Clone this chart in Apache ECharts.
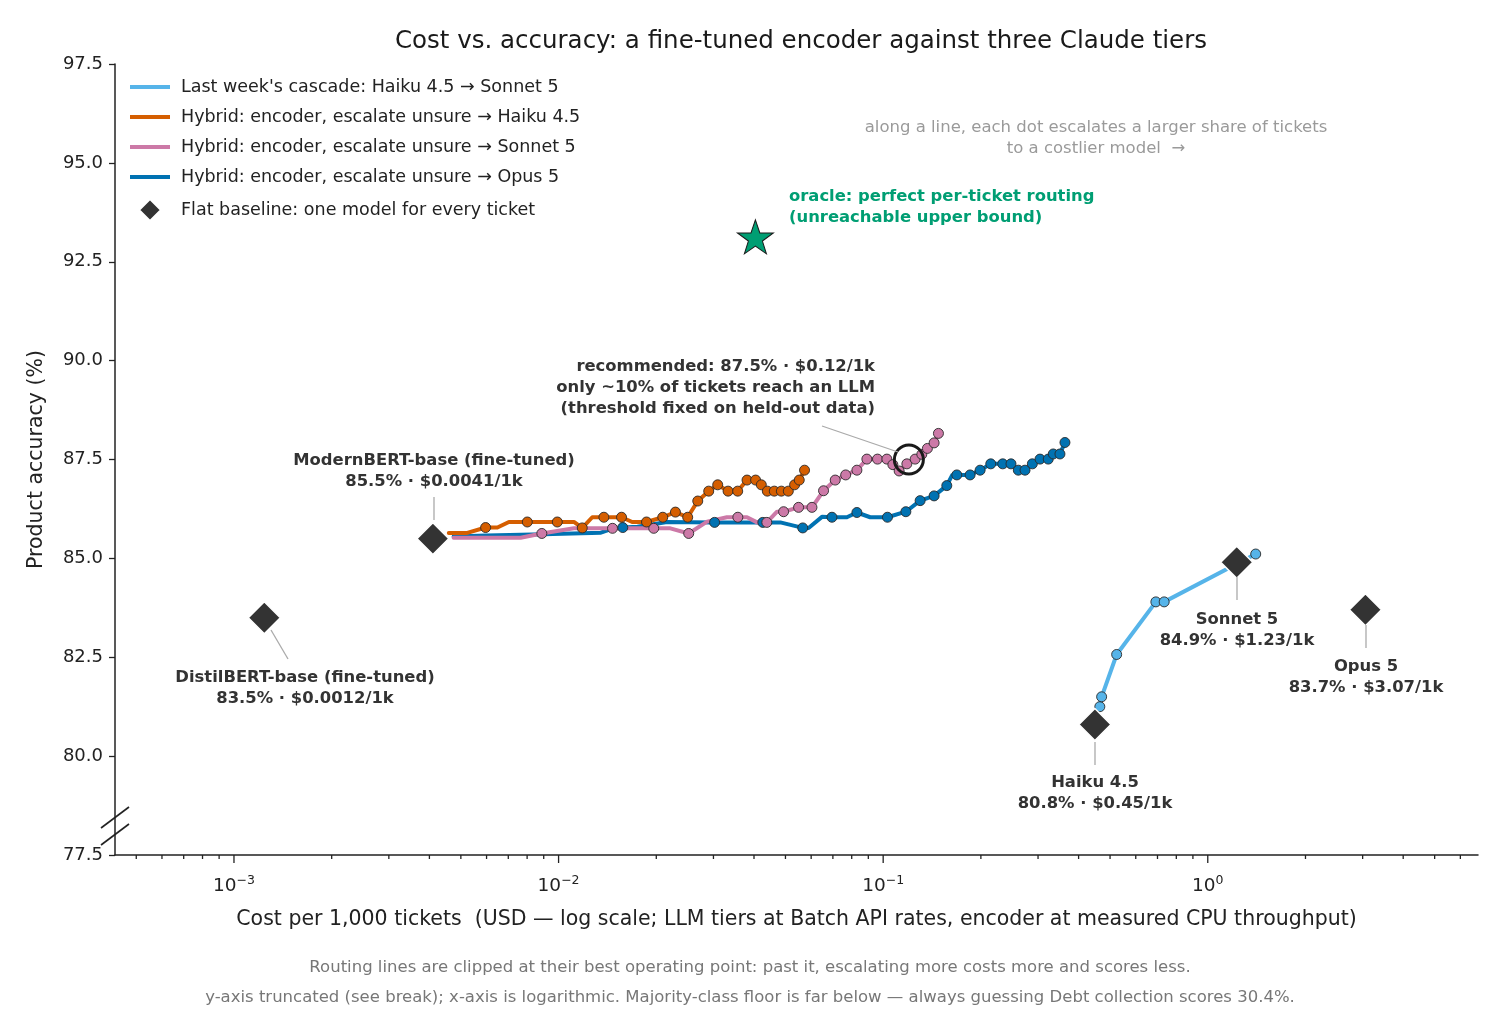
<!DOCTYPE html>
<html>
<head>
<meta charset="utf-8">
<script src="https://cdn.jsdelivr.net/npm/echarts@6/dist/echarts.min.js"></script>
<style>
  html, body { margin: 0; padding: 0; background: #fff; }
  #chart { width: 1500px; height: 1020px; }
</style>
</head>
<body>
<div id="chart"></div>
<script>
const FONT = '"DejaVu Sans", "Open Sans", sans-serif';

// cost per 1k tickets (USD), accuracy (%)
const cascadePts = [[0.465, 81.25], [0.471, 81.5], [0.524, 82.57], [0.692, 83.9], [0.734, 83.9], [1.405, 85.11]];

const haikuHybridLine = [
  [0.00459, 85.64], [0.0052, 85.64], [0.00596, 85.78], [0.00648, 85.78], [0.00703, 85.92],
  [0.00801, 85.92], [0.00991, 85.92], [0.01115, 85.92], [0.01183, 85.77], [0.0127, 86.04],
  [0.01379, 86.04], [0.01563, 86.04], [0.01686, 85.92], [0.01866, 85.92], [0.02094, 86.04],
  [0.02291, 86.17], [0.02499, 86.04], [0.02684, 86.45], [0.02901, 86.7], [0.03092, 86.86],
  [0.03328, 86.7], [0.03563, 86.7], [0.03807, 86.98], [0.04046, 86.98], [0.04213, 86.86],
  [0.04397, 86.7], [0.04619, 86.7], [0.04856, 86.7], [0.05102, 86.7], [0.05335, 86.86],
  [0.05514, 86.98], [0.05725, 87.23]
];
const haikuHybridDots = [
  [0.00596, 85.78], [0.00801, 85.92], [0.00991, 85.92], [0.01183, 85.77], [0.01379, 86.04],
  [0.01563, 86.04], [0.01866, 85.92], [0.02094, 86.04], [0.02291, 86.17], [0.02499, 86.04],
  [0.02684, 86.45], [0.02901, 86.7], [0.03092, 86.86], [0.03328, 86.7], [0.03563, 86.7],
  [0.03807, 86.98], [0.04046, 86.98], [0.04213, 86.86], [0.04397, 86.7], [0.04619, 86.7],
  [0.04856, 86.7], [0.05102, 86.7], [0.05335, 86.86], [0.05514, 86.98], [0.05725, 87.23]
];

const sonnetHybridLine = [
  [0.00475, 85.52], [0.00764, 85.52], [0.00888, 85.63], [0.01115, 85.76], [0.01466, 85.76],
  [0.01964, 85.76], [0.0221, 85.76], [0.02517, 85.63], [0.02868, 85.93], [0.033, 86.04],
  [0.03567, 86.04], [0.03807, 86.04], [0.04087, 85.91], [0.04381, 85.91], [0.0471, 86.18],
  [0.04934, 86.18], [0.05488, 86.29], [0.06034, 86.29], [0.06551, 86.71], [0.07117, 86.98],
  [0.07665, 87.11], [0.083, 87.23], [0.08908, 87.51], [0.09605, 87.51], [0.10266, 87.51],
  [0.10711, 87.37], [0.112, 87.21], [0.11831, 87.39], [0.12546, 87.51], [0.13153, 87.63],
  [0.13686, 87.78], [0.14353, 87.92], [0.148, 88.16]
];
const sonnetHybridDots = [
  [0.00888, 85.63], [0.01466, 85.76], [0.01964, 85.76], [0.02517, 85.63], [0.03567, 86.04],
  [0.04381, 85.91], [0.04934, 86.18], [0.05488, 86.29], [0.06034, 86.29], [0.06551, 86.71],
  [0.07117, 86.98], [0.07665, 87.11], [0.083, 87.23], [0.08908, 87.51], [0.09605, 87.51],
  [0.10266, 87.51], [0.10711, 87.37], [0.112, 87.21], [0.11831, 87.39], [0.12546, 87.51],
  [0.13153, 87.63], [0.13686, 87.78], [0.14353, 87.92], [0.148, 88.16]
];

const opusHybridLine = [
  [0.00475, 85.55], [0.006, 85.58], [0.009, 85.61], [0.0135, 85.65], [0.01475, 85.76],
  [0.01577, 85.78], [0.0175, 85.8], [0.0216, 85.92], [0.03024, 85.91], [0.04259, 85.91],
  [0.04822, 85.91], [0.05652, 85.77], [0.05891, 85.77], [0.06478, 86.05], [0.06954, 86.04],
  [0.07731, 86.04], [0.083, 86.16], [0.0912, 86.04], [0.10309, 86.04], [0.11747, 86.18],
  [0.12997, 86.46], [0.14353, 86.58], [0.15704, 86.84], [0.1630, 87.1], [0.16862, 87.11],
  [0.18525, 87.11], [0.1989, 87.23], [0.2145, 87.39], [0.23352, 87.39], [0.24763, 87.39],
  [0.26082, 87.23], [0.27354, 87.23], [0.28812, 87.39], [0.3042, 87.51], [0.32256, 87.51],
  [0.3342, 87.64], [0.35044, 87.64], [0.36308, 87.93]
];
const opusHybridDots = [
  [0.01577, 85.78], [0.03024, 85.91], [0.04259, 85.91], [0.05652, 85.77], [0.06954, 86.04],
  [0.083, 86.16], [0.10309, 86.04], [0.11747, 86.18], [0.12997, 86.46], [0.14353, 86.58],
  [0.15704, 86.84], [0.16862, 87.11], [0.18525, 87.11], [0.1989, 87.23], [0.2145, 87.39],
  [0.23352, 87.39], [0.24763, 87.39], [0.26082, 87.23], [0.27354, 87.23], [0.28812, 87.39],
  [0.3042, 87.51], [0.32256, 87.51], [0.3342, 87.64], [0.35044, 87.64], [0.36308, 87.93]
];

// flat baselines: DistilBERT, ModernBERT, Haiku 4.5, Sonnet 5, Opus 5
const baselinePts = [[0.00124, 83.5], [0.0041, 85.5], [0.449, 80.8], [1.228, 84.9], [3.06, 83.7]];
const oraclePt = [[0.0404, 93.13]];
const recommendedPt = [[0.12, 87.5]];

const yTicks = { min: 77.5, max: 97.5, step: 2.5 };
const xRange = { min: 0.00043, max: 6.8 };
const majorTicks = [0.001, 0.01, 0.1, 1];
const minorMult = [2, 3, 4, 5, 6, 7, 8, 9];
const minorDecades = [0.0001, 0.001, 0.01, 0.1, 1];

const C = {
  cascade: '#56B4E9', haiku: '#D55E00', sonnet: '#CC79A7', opus: '#0072B2',
  oracle: '#009E73', base: '#333333', ink: '#222222', lead: '#aaaaaa'
};

const names = {
  cascade: "Last week's cascade: Haiku 4.5 → Sonnet 5",
  haiku: 'Hybrid: encoder, escalate unsure → Haiku 4.5',
  sonnet: 'Hybrid: encoder, escalate unsure → Sonnet 5',
  opus: 'Hybrid: encoder, escalate unsure → Opus 5',
  base: 'Flat baseline: one model for every ticket'
};

const LINE_ICON = 'path://M0,0 L40,0 L40,4 L0,4 Z';
const DIAMOND_ICON = 'path://M11,0 L22,11 L11,22 L0,11 Z';

const tickData = [];
majorTicks.forEach(v => tickData.push([v, yTicks.min, 8]));
minorDecades.forEach(d => minorMult.forEach(m => {
  const v = d * m;
  if (v > xRange.min && v < xRange.max) tickData.push([v, yTicks.min, 4]);
}));

function lineSeries(name, data, color) {
  return {
    name, type: 'line', data, symbol: 'none', z: 3,
    lineStyle: { color, width: 4, join: 'round', cap: 'round' },
    itemStyle: { color }
  };
}
function dotSeries(data, color) {
  return {
    type: 'scatter', data, symbolSize: 10, z: 4,
    itemStyle: { color, opacity: 1, borderColor: '#2a2a2a', borderWidth: 0.9 }
  };
}

function fmtPow(v) {
  const e = Math.log10(v);
  if (Math.abs(e - Math.round(e)) > 1e-6) return '';
  const s = String(Math.round(e)).replace('-', '−');
  return '{b|10}{s|' + s + '}';
}

const chart = echarts.init(document.getElementById('chart'));

function txt(x, y, text, opt) {
  return {
    type: 'text', x, y, silent: true, z: 50,
    style: Object.assign({
      text, fontFamily: FONT, fontSize: 16.4, fontWeight: 'bold', fill: C.base,
      textAlign: 'center', verticalAlign: 'middle', lineHeight: 21
    }, opt || {})
  };
}
function lead(x1, y1, x2, y2) {
  return { type: 'line', silent: true, z: 50, shape: { x1, y1, x2, y2 }, style: { stroke: C.lead, lineWidth: 1.3 } };
}

const option = {
  backgroundColor: '#fff',
  animation: false,
  textStyle: { fontFamily: FONT },
  title: {
    text: 'Cost vs. accuracy: a fine-tuned encoder against three Claude tiers',
    left: 796, top: 24, textAlign: 'center',
    textStyle: { fontFamily: FONT, fontSize: 24.5, fontWeight: 'normal', color: '#1a1a1a' }
  },
  grid: { left: 115, right: 22, top: 64, bottom: 165 },
  legend: {
    orient: 'vertical', left: 130, top: 78, padding: 0, itemGap: 12,
    itemWidth: 40, itemHeight: 22, selectedMode: false, symbolKeepAspect: true,
    textStyle: { fontFamily: FONT, fontSize: 17.5, color: C.ink, padding: [0, 0, 0, 6] },
    data: [
      { name: names.cascade, icon: LINE_ICON }, { name: names.haiku, icon: LINE_ICON },
      { name: names.sonnet, icon: LINE_ICON }, { name: names.opus, icon: LINE_ICON },
      { name: names.base, icon: DIAMOND_ICON }
    ]
  },
  xAxis: {
    type: 'log', logBase: 10, min: xRange.min, max: xRange.max,
    name: 'Cost per 1,000 tickets  (USD — log scale; LLM tiers at Batch API rates, encoder at measured CPU throughput)',
    nameLocation: 'middle', nameGap: 54,
    nameTextStyle: { fontFamily: FONT, fontSize: 20.5, color: C.ink },
    axisLine: { lineStyle: { color: C.ink, width: 1.5 } },
    axisTick: { show: false },
    splitLine: { show: false },
    axisLabel: {
      margin: 19, formatter: fmtPow, color: C.ink,
      rich: {
        b: { fontFamily: FONT, fontSize: 18.5, color: C.ink },
        s: { fontFamily: FONT, fontSize: 12.5, color: C.ink, padding: [0, 0, 12, 0] }
      }
    }
  },
  yAxis: {
    type: 'value', min: yTicks.min, max: yTicks.max, interval: yTicks.step,
    name: 'Product accuracy (%)', nameLocation: 'middle', nameGap: 68,
    nameTextStyle: { fontFamily: FONT, fontSize: 20.5, color: C.ink },
    axisLine: { show: true, lineStyle: { color: C.ink, width: 1.5 } },
    axisTick: { show: true, length: 6, lineStyle: { color: C.ink, width: 1.3 } },
    splitLine: { show: false },
    axisLabel: { fontFamily: FONT, fontSize: 18, color: C.ink, margin: 12, formatter: v => v.toFixed(1) }
  },
  series: [
    {
      type: 'custom', data: tickData, silent: true, clip: false, z: 6,
      encode: { x: 0, y: 1 },
      renderItem: (params, api) => {
        const p = api.coord([api.value(0), api.value(1)]);
        return {
          type: 'line',
          shape: { x1: p[0], y1: p[1], x2: p[0], y2: p[1] + api.value(2) },
          style: { stroke: C.ink, lineWidth: 1.3 }
        };
      }
    },
    lineSeries(names.cascade, cascadePts, C.cascade),
    dotSeries(cascadePts, C.cascade),
    lineSeries(names.opus, opusHybridLine, C.opus),
    dotSeries(opusHybridDots, C.opus),
    lineSeries(names.sonnet, sonnetHybridLine, C.sonnet),
    dotSeries(sonnetHybridDots, C.sonnet),
    lineSeries(names.haiku, haikuHybridLine, C.haiku),
    dotSeries(haikuHybridDots, C.haiku),
    {
      name: names.base, type: 'scatter', data: baselinePts, symbol: 'diamond',
      symbolSize: 32, z: 8,
      itemStyle: { color: C.base, opacity: 1, borderColor: '#ffffff', borderWidth: 1.5 }
    },
    {
      type: 'scatter', data: oraclePt, z: 8, symbolSize: [36, 34],
      symbol: 'path://M50,0 L61.8,35.1 L98.1,35.1 L68.7,56.7 L79.4,91 L50,70 L20.6,91 L31.3,56.7 L1.9,35.1 L38.2,35.1 Z',
      itemStyle: { color: C.oracle, opacity: 1, borderColor: '#1a1a1a', borderWidth: 1 }
    },
    {
      type: 'scatter', data: recommendedPt, z: 9, symbol: 'circle', symbolSize: 29,
      itemStyle: { color: 'rgba(0,0,0,0)', opacity: 1, borderColor: '#1a1a1a', borderWidth: 3 }
    }
  ],
  graphic: [
    // y-axis break marks
    { type: 'line', silent: true, z: 60, shape: { x1: 101, y1: 828, x2: 129, y2: 807 }, style: { stroke: C.ink, lineWidth: 1.6 } },
    { type: 'line', silent: true, z: 60, shape: { x1: 101, y1: 845, x2: 129, y2: 824 }, style: { stroke: C.ink, lineWidth: 1.6 } },

    txt(875, 388, 'recommended: 87.5% · $0.12/1k\nonly ~10% of tickets reach an LLM\n(threshold fixed on held-out data)', { textAlign: 'right' }),
    lead(822, 426, 898, 452),
    txt(434, 471, 'ModernBERT-base (fine-tuned)\n85.5% · $0.0041/1k'),
    lead(434, 497, 434, 520),
    txt(305, 688, 'DistilBERT-base (fine-tuned)\n83.5% · $0.0012/1k'),
    lead(271, 630, 288, 659),
    txt(1095, 793, 'Haiku 4.5\n80.8% · $0.45/1k'),
    lead(1095, 742, 1095, 765),
    txt(1237, 630, 'Sonnet 5\n84.9% · $1.23/1k'),
    lead(1237, 577, 1237, 600),
    txt(1366, 677, 'Opus 5\n83.7% · $3.07/1k'),
    lead(1366, 625, 1366, 648),
    txt(789, 207, 'oracle: perfect per-ticket routing\n(unreachable upper bound)', { textAlign: 'left', fill: C.oracle }),
    txt(1096, 138, 'along a line, each dot escalates a larger share of tickets\nto a costlier model  →', { fontWeight: 'normal', fontSize: 16.5, fill: '#9a9a9a' }),

    txt(750, 968, 'Routing lines are clipped at their best operating point: past it, escalating more costs more and scores less.', { fontWeight: 'normal', fontSize: 16.5, fill: '#777' }),
    txt(750, 998, 'y-axis truncated (see break); x-axis is logarithmic. Majority-class floor is far below — always guessing Debt collection scores 30.4%.', { fontWeight: 'normal', fontSize: 16.5, fill: '#777' })
  ]
};

chart.setOption(option);
</script>
</body>
</html>
